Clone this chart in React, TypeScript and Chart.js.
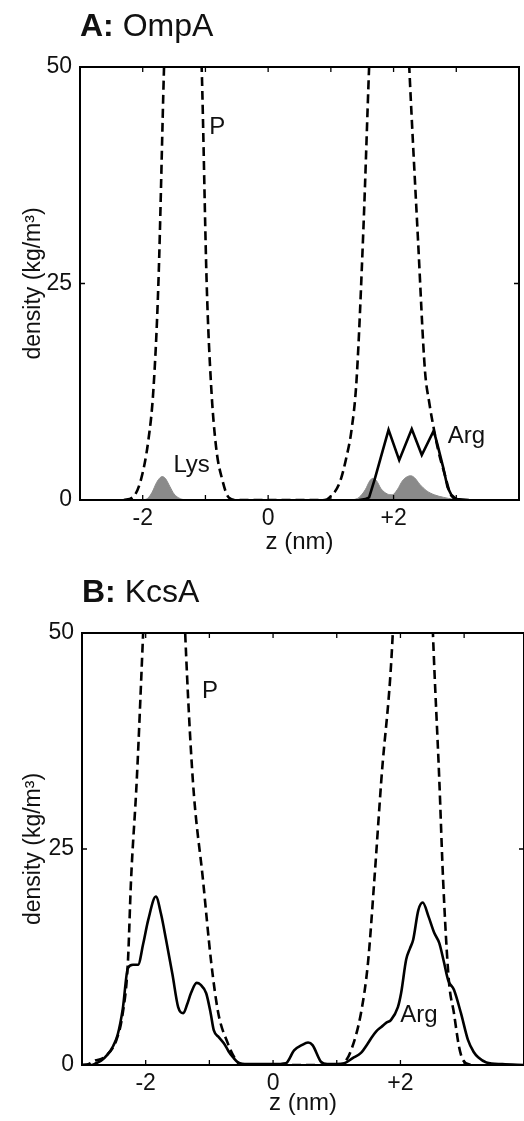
import React, { useEffect, useRef } from "react";
import { Chart, registerables } from "chart.js";
Chart.register(...registerables);

// ---------- shared axis data ----------
const xTickValues = [-3, -2, -1, 0, 1, 2, 3, 4];
const xLabeledValues = [-2, 0, 2];
const xLabelTexts = ["-2", "0", "+2"];
const yTickValues = [0, 25, 50];
const xAxisTitle = "z (nm)";
const yAxisTitle = "density (kg/m\u00B3)";

// ---------- Panel A: OmpA ----------
const pA_z = [-2.3, -2.16, -2.03, -1.91, -1.83, -1.75, -1.66, -1.55, -1.35, -1.2, -1.06, -0.98, -0.91, -0.83, -0.73, -0.63, -0.5, 0.9, 0.98, 1.14, 1.25, 1.33, 1.41, 1.52, 1.61, 1.75, 1.93, 2.1, 2.25, 2.39, 2.5, 2.57, 2.64, 2.71, 2.81, 2.92, 3.02, 3.1];
const pA_d = [0, 0.3, 2.3, 6.9, 12.7, 25, 50, 75, 90, 75, 50, 25, 13.3, 6.1, 2.3, 0.3, 0, 0, 0.3, 2, 5, 8.1, 13.9, 31.5, 50, 75, 90, 75, 50, 30, 15, 11.2, 8.3, 5.8, 3.1, 0.5, 0.1, 0];

const lysA1_z = [-2.0, -1.92, -1.85, -1.78, -1.72, -1.69, -1.64, -1.57, -1.5, -1.4, -1.3];
const lysA1_d = [0, 0.2, 0.9, 2.0, 2.6, 2.7, 2.5, 1.6, 0.7, 0.15, 0];
const lysA2_z = [1.35, 1.45, 1.55, 1.62, 1.67, 1.73, 1.8, 1.9, 1.98, 2.06, 2.14, 2.22, 2.27, 2.33, 2.42, 2.52, 2.65, 2.8, 2.95, 3.1];
const lysA2_d = [0, 0.3, 1.2, 2.2, 2.5, 2.2, 1.3, 0.7, 0.6, 1.2, 2.2, 2.7, 2.8, 2.6, 1.8, 1.1, 0.6, 0.3, 0.1, 0];

const argA_z = [1.45, 1.55, 1.61, 1.7, 1.8, 1.92, 2.09, 2.29, 2.45, 2.64, 2.7, 2.79, 2.86, 2.92, 3.0, 3.2];
const argA_d = [0, 0.1, 0.3, 2.4, 5.0, 8.1, 4.6, 8.2, 5.2, 8.0, 6.4, 3.8, 1.5, 0.6, 0.1, 0];

// ---------- Panel B: KcsA ----------
const pB_z = [-3.0, -2.9, -2.8, -2.65, -2.46, -2.36, -2.28, -2.23, -2.14, -2.04, -1.9, -1.7, -1.5, -1.38, -1.26, -1.1, -0.97, -0.86, -0.71, -0.61, -0.5, 1.0, 1.12, 1.22, 1.38, 1.49, 1.59, 1.7, 1.88, 2.0, 2.2, 2.4, 2.51, 2.61, 2.67, 2.76, 2.84, 2.92, 2.98, 3.1];
const pB_d = [0, 0.1, 0.5, 0.9, 2.9, 6, 11.8, 21.4, 33, 50, 75, 90, 75, 50, 33, 21.4, 11.8, 6, 2.5, 0.9, 0, 0, 0.3, 1.6, 6, 11.8, 21.4, 33, 50, 75, 90, 75, 50, 33, 21.4, 9.8, 6, 2.1, 0.6, 0];

const argB_z = [-3.0, -2.85, -2.78, -2.7, -2.6, -2.51, -2.44, -2.36, -2.28, -2.2, -2.12, -2.04, -1.96, -1.84, -1.76, -1.68, -1.58, -1.49, -1.41, -1.35, -1.29, -1.2, -1.14, -1.05, -0.98, -0.93, -0.85, -0.77, -0.7, -0.63, -0.55, -0.4, 0.0, 0.2, 0.33, 0.45, 0.55, 0.62, 0.75, 0.85, 1.0, 1.12, 1.25, 1.38, 1.48, 1.54, 1.62, 1.7, 1.78, 1.85, 1.96, 2.01, 2.09, 2.15, 2.2, 2.28, 2.35, 2.44, 2.53, 2.61, 2.68, 2.75, 2.84, 2.95, 3.06, 3.15, 3.22, 3.35, 3.6, 3.95];
const argB_d = [0, 0, 0.2, 0.5, 1.2, 2.2, 3.5, 6.5, 11.2, 11.6, 11.6, 14, 16.8, 19.5, 17.5, 14.5, 10.5, 6.7, 6.0, 7.0, 8.3, 9.5, 9.3, 8.3, 6, 4, 3.2, 2.5, 1.6, 0.9, 0.3, 0.1, 0.1, 0.2, 1.7, 2.3, 2.6, 2.3, 0.4, 0.1, 0.1, 0.2, 0.8, 1.4, 2.4, 3.1, 3.9, 4.4, 4.9, 5.2, 6.7, 8.3, 12.2, 13.5, 14.5, 17.9, 18.8, 17.2, 15.3, 14.1, 12, 9.8, 8.7, 6, 2.9, 1.5, 0.9, 0.3, 0.1, 0];

// annotations (text, z, density)
const notesA = [
  { text: "P", z: -0.81, d: 43 },
  { text: "Lys", z: -1.22, d: 4.0 },
  { text: "Arg", z: 3.16, d: 7.3 },
];
const notesB = [
  { text: "P", z: -0.99, d: 43.2 },
  { text: "Arg", z: 2.29, d: 5.8 },
];

const FONT = '"Liberation Sans", Arial, Helvetica, sans-serif';
const INK = "#111";
const GRAY = "#8a8a8a";

const pts = (zs: number[], ds: number[]) => zs.map((z, i) => ({ x: z, y: ds[i] }));

const framePlugin = {
  id: "frameAndText",
  afterDatasetsDraw(chart: any, _args: any, opts: any) {
    const { ctx, chartArea: a, scales } = chart;
    const x = scales.x;
    const y = scales.y;
    ctx.save();
    ctx.strokeStyle = "#000";
    ctx.lineWidth = 2;
    ctx.strokeRect(a.left, a.top, a.right - a.left, a.bottom - a.top);
    ctx.lineWidth = 1.3;
    ctx.beginPath();
    for (const t of xTickValues) {
      const px = x.getPixelForValue(t);
      ctx.moveTo(px, a.bottom);
      ctx.lineTo(px, a.bottom - 5);
      ctx.moveTo(px, a.top);
      ctx.lineTo(px, a.top + 5);
    }
    for (const t of yTickValues) {
      const py = y.getPixelForValue(t);
      ctx.moveTo(a.left, py);
      ctx.lineTo(a.left + 5, py);
      ctx.moveTo(a.right, py);
      ctx.lineTo(a.right - 5, py);
    }
    ctx.stroke();

    ctx.fillStyle = INK;
    ctx.font = `24px ${FONT}`;
    ctx.textAlign = "center";
    ctx.textBaseline = "middle";
    for (const n of opts.notes) {
      ctx.fillText(n.text, x.getPixelForValue(n.z), y.getPixelForValue(n.d));
    }

    // panel title
    ctx.textAlign = "left";
    ctx.textBaseline = "alphabetic";
    const ty = a.top - 31;
    ctx.font = `bold 32px ${FONT}`;
    ctx.fillText(opts.letter, a.left, ty);
    const w = ctx.measureText(opts.letter).width;
    ctx.font = `32px ${FONT}`;
    ctx.fillText(" " + opts.name, a.left + w, ty);
    ctx.restore();
  },
};

type PanelProps = {
  height: number;
  plotTop: number;
  plotBottom: number;
  plotLeft: number;
  xMax: number;
  datasets: any[];
  notes: any[];
  letter: string;
  name: string;
};

function Panel(p: PanelProps) {
  const ref = useRef<HTMLCanvasElement>(null);
  useEffect(() => {
    if (!ref.current) return;
    const chart = new Chart(ref.current, {
      type: "line",
      data: { datasets: p.datasets },
      plugins: [framePlugin],
      options: {
        animation: false,
        responsive: false,
        devicePixelRatio: 1,
        parsing: false as any,
        layout: { padding: { top: p.plotTop, left: 0, right: 0, bottom: 0 } },
        plugins: {
          legend: { display: false },
          tooltip: { enabled: false },
          frameAndText: { notes: p.notes, letter: p.letter, name: p.name },
        } as any,
        elements: { point: { radius: 0 } },
        scales: {
          x: {
            type: "linear",
            min: -3,
            max: p.xMax,
            afterFit: (s: any) => {
              s.height = p.height - p.plotBottom;
            },
            afterBuildTicks: (s: any) => {
              s.ticks = xTickValues.filter((v) => v <= p.xMax).map((v) => ({ value: v }));
            },
            ticks: {
              autoSkip: false,
              maxRotation: 0,
              padding: 5,
              color: INK,
              font: { family: FONT, size: 23 },
              callback: (v: any) => {
                const i = xLabeledValues.indexOf(Number(v));
                return i >= 0 ? xLabelTexts[i] : "";
              },
            },
            grid: { display: false, drawTicks: false },
            border: { display: false },
            title: {
              display: true,
              text: xAxisTitle,
              color: INK,
              font: { family: FONT, size: 24 },
              padding: { top: 0, bottom: 3 },
            },
          },
          y: {
            type: "linear",
            min: 0,
            max: 50,
            afterFit: (s: any) => {
              s.width = p.plotLeft;
            },
            afterBuildTicks: (s: any) => {
              s.ticks = yTickValues.map((v) => ({ value: v }));
            },
            ticks: {
              padding: 8,
              color: INK,
              font: { family: FONT, size: 23 },
            },
            grid: { display: false, drawTicks: false },
            border: { display: false },
            title: {
              display: true,
              text: yAxisTitle,
              color: INK,
              font: { family: FONT, size: 23 },
              padding: { top: 20, bottom: 0 },
            },
          },
        },
      },
    });
    return () => chart.destroy();
  }, []);
  return (
    <canvas
      ref={ref}
      width={524}
      height={p.height}
      style={{ display: "block", width: 524, height: p.height }}
    />
  );
}

const dashed = (data: any[]) => ({
  data,
  borderColor: "#000",
  borderWidth: 2.6,
  borderDash: [9, 5],
  cubicInterpolationMode: "monotone",
  fill: false,
  pointRadius: 0,
  order: 1,
});
const solid = (data: any[], smooth: boolean) => ({
  data,
  borderColor: "#000",
  borderWidth: 2.6,
  tension: 0,
  cubicInterpolationMode: smooth ? "monotone" : "default",
  fill: false,
  pointRadius: 0,
  order: 0,
});
const grayFill = (data: any[]) => ({
  data,
  borderColor: GRAY,
  borderWidth: 1,
  backgroundColor: GRAY,
  cubicInterpolationMode: "monotone",
  fill: "origin",
  pointRadius: 0,
  order: 3,
});

export default function App() {
  const dsA = [
    grayFill(pts(lysA1_z, lysA1_d)),
    grayFill(pts(lysA2_z, lysA2_d)),
    dashed(pts(pA_z, pA_d)),
    solid(pts(argA_z, argA_d), false),
  ];
  const dsB = [dashed(pts(pB_z, pB_d)), solid(pts(argB_z, argB_d), true)];
  return (
    <div
      style={{
        position: "fixed",
        top: 0,
        left: 0,
        width: 524,
        height: 1121,
        background: "#fff",
        overflow: "hidden",
      }}
    >
      <Panel
        height={560}
        plotTop={67}
        plotBottom={500}
        plotLeft={80}
        xMax={4}
        datasets={dsA}
        notes={notesA}
        letter="A:"
        name="OmpA"
      />
      <Panel
        height={561}
        plotTop={73}
        plotBottom={505}
        plotLeft={82}
        xMax={3.94}
        datasets={dsB}
        notes={notesB}
        letter="B:"
        name="KcsA"
      />
    </div>
  );
}
